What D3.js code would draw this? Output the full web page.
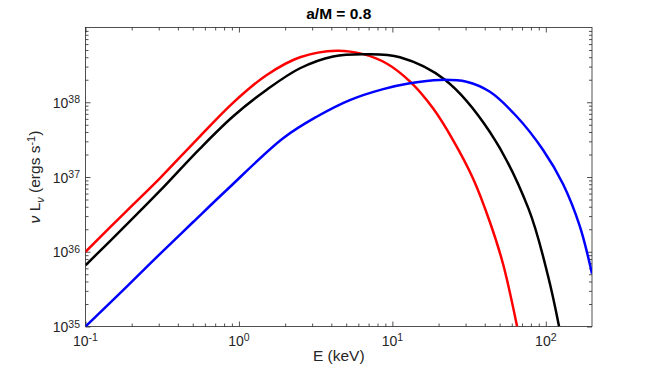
<!DOCTYPE html>
<html>
<head>
<meta charset="utf-8">
<script src="https://cdn.jsdelivr.net/npm/d3@7"></script>
<style>
  body { margin: 0; background: #fff; }
  svg text { font-family: "Liberation Sans", Arial, sans-serif; fill: #262626; }
</style>
</head>
<body>
<div id="chart"></div>
<script>
// spectra: energy (keV) and nu L_nu (erg/s)
const redE   = [0.1, 0.185, 0.305, 0.557, 0.918, 1.51, 2.50, 4.33, 6.45, 9.17, 13.0, 18.4, 24.9, 33.6, 43.2, 52.7, 65.0];
const redL   = [1.0e36, 3.5e36, 9.6e36, 3.5e37, 9.9e37, 2.3e38, 4.0e38, 4.9e38, 4.4e38, 3.3e38, 1.9e38, 8.3e37, 3.1e37, 9.5e36, 2.5e36, 6.8e35, 1.0e35];
const blackE = [0.1, 0.185, 0.305, 0.557, 0.918, 1.51, 2.50, 4.11, 6.79, 11.2, 22.0, 43.2, 77, 103.5, 122];
const blackL = [6.6e35, 2.3e36, 6.5e36, 2.4e37, 6.5e37, 1.46e38, 2.85e38, 4.1e38, 4.4e38, 4.0e38, 2.0e38, 4.0e37, 3.8e36, 4.7e35, 1.0e35];
const blueE  = [0.1, 0.185, 0.305, 0.503, 0.832, 1.94, 3.21, 5.28, 8.71, 13.0, 20.4, 30.4, 43.2, 64.4, 96, 129.7, 166.5, 200];
const blueL  = [1.0e35, 3.4e35, 9.3e35, 2.5e36, 6.7e36, 3.3e37, 6.4e37, 1.07e38, 1.5e38, 1.8e38, 1.99e38, 1.88e38, 1.38e38, 6.5e37, 2.3e37, 8.0e36, 2.2e36, 5.1e35];

const xMajor = [0.1, 1, 10, 100];
const xMajorExp = ["-1", "0", "1", "2"];
const yMajor = [1e35, 1e36, 1e37, 1e38];
const yMajorExp = ["35", "36", "37", "38"];

const margin = {top: 27.5, right: 62, bottom: 43.5, left: 85.5},
    width = 654 - margin.left - margin.right,
    height = 370 - margin.top - margin.bottom;

const svg = d3.select("#chart")
    .append("svg")
    .attr("width", 654)
    .attr("height", 370)
    .append("g")
    .attr("transform", "translate(" + margin.left + "," + margin.top + ")");

const x = d3.scaleLog().domain([0.1, 200]).range([0, width]);
const y = d3.scaleLog().domain([1e35, 1e39]).range([height, 0]);

// minor ticks 2..9 in every decade
const xMinor = [];
for (let d = -1; d <= 2; d++) for (let k = 2; k <= 9; k++) {
    const v = k * Math.pow(10, d);
    if (v < 200) xMinor.push(v);
}
const yMinor = [];
for (let d = 35; d <= 38; d++) for (let k = 2; k <= 9; k++) yMinor.push(k * Math.pow(10, d));

function addAxis(axis, transform) {
    const g = svg.append("g")
        .attr("transform", transform)
        .attr("color", "#262626")
        .call(axis.tickSizeOuter(0).tickFormat(""));
    g.select(".domain").remove();
    g.selectAll("line").attr("stroke-width", 0.8);
}

// inward ticks on all four sides
addAxis(d3.axisBottom(x).tickValues(xMinor).tickSize(-3), "translate(0," + height + ")");
addAxis(d3.axisBottom(x).tickValues(xMajor).tickSize(-5), "translate(0," + height + ")");
addAxis(d3.axisTop(x).tickValues(xMinor).tickSize(-3), "translate(0,0)");
addAxis(d3.axisTop(x).tickValues(xMajor).tickSize(-5), "translate(0,0)");
addAxis(d3.axisLeft(y).tickValues(yMinor).tickSize(-3), "translate(0,0)");
addAxis(d3.axisLeft(y).tickValues(yMajor).tickSize(-5), "translate(0,0)");
addAxis(d3.axisRight(y).tickValues(yMinor).tickSize(-3), "translate(" + width + ",0)");
addAxis(d3.axisRight(y).tickValues(yMajor).tickSize(-5), "translate(" + width + ",0)");

// box
svg.append("rect")
    .attr("width", width)
    .attr("height", height)
    .attr("fill", "none")
    .attr("stroke", "#262626")
    .attr("stroke-width", 0.8);

// x tick labels 10^n
const xl = svg.selectAll(".xlab")
    .data(xMajor)
    .enter()
    .append("text")
    .attr("x", d => x(d))
    .attr("y", height + 19.5)
    .attr("text-anchor", "middle")
    .style("font-size", "14px");
xl.append("tspan").text("10");
xl.append("tspan").attr("dy", -5).style("font-size", "10.5px").text((d, i) => xMajorExp[i]);

// y tick labels
const yl = svg.selectAll(".ylab")
    .data(yMajor)
    .enter()
    .append("text")
    .attr("x", -5.5)
    .attr("y", d => y(d) + 5.5)
    .attr("text-anchor", "end")
    .style("font-size", "14px");
yl.append("tspan").text("10");
yl.append("tspan").attr("dy", -4.5).style("font-size", "10.5px").text((d, i) => yMajorExp[i]);

// lines
svg.append("clipPath").attr("id", "clip")
    .append("rect").attr("width", width).attr("height", height);

const line = d3.line()
    .x(d => x(d[0]))
    .y(d => y(d[1]))
    .curve(d3.curveCatmullRom.alpha(0.5));

const series = [
    {e: redE, l: redL, color: "#ff0000"},
    {e: blackE, l: blackL, color: "#000000"},
    {e: blueE, l: blueL, color: "#0000ff"}
];

svg.selectAll(".curve")
    .data(series)
    .enter()
    .append("path")
    .attr("clip-path", "url(#clip)")
    .attr("fill", "none")
    .attr("stroke", d => d.color)
    .attr("stroke-width", 2.5)
    .attr("d", d => line(d.e.map((v, i) => [v, d.l[i]])));

// title and axis labels
svg.append("text")
    .attr("x", width / 2)
    .attr("y", -8.5)
    .attr("text-anchor", "middle")
    .style("font-size", "15.5px")
    .style("font-weight", "bold")
    .style("fill", "#000")
    .text("a/M = 0.8");

svg.append("text")
    .attr("x", width / 2)
    .attr("y", height + 34.5)
    .attr("text-anchor", "middle")
    .style("font-size", "15.5px")
    .text("E (keV)");

const yt = svg.append("text")
    .attr("transform", "translate(" + (40 - margin.left) + "," + (height / 2) + ") rotate(-90)")
    .attr("text-anchor", "middle")
    .style("font-size", "15.5px");
yt.append("tspan").style("font-style", "italic").text("\u03BD");
yt.append("tspan").text(" L");
yt.append("tspan").attr("dy", 3.5).style("font-size", "11px").style("font-style", "italic").text("\u03BD");
yt.append("tspan").attr("dy", -3.5).text(" (ergs s");
yt.append("tspan").attr("dy", -5.5).style("font-size", "11px").text("-1");
yt.append("tspan").attr("dy", 5.5).text(")");
</script>
</body>
</html>
